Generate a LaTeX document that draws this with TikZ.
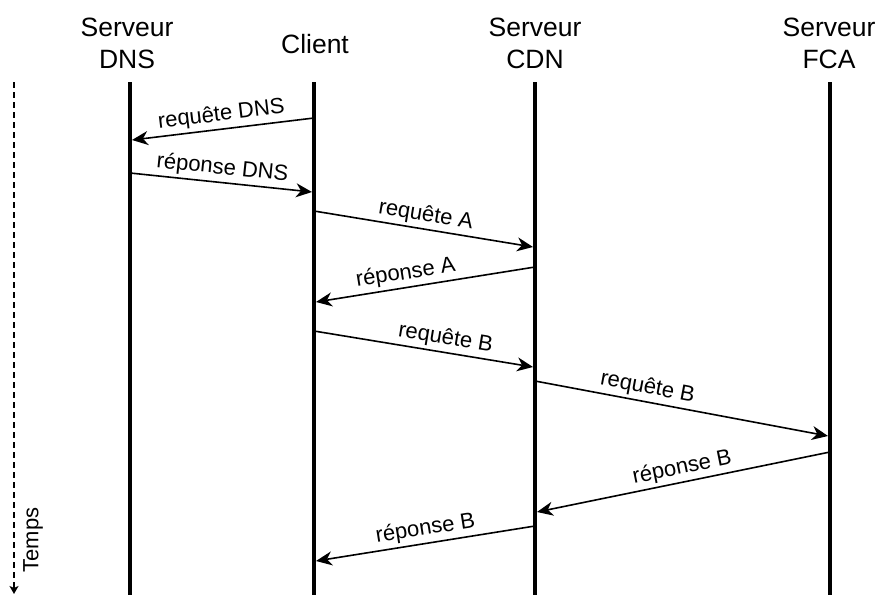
\documentclass[tikz,border=0pt]{standalone}
\usepackage{fontspec}
\setmainfont{Liberation Sans}
\usetikzlibrary{arrows.meta}
\begin{document}
\begin{tikzpicture}[x=1pt,y=-1pt,
  header/.style={font=\fontsize{26.5}{32}\selectfont, align=center, inner sep=0pt},
  lifeline/.style={line width=4pt},
  msg/.style={line width=1.6pt, -{Stealth[length=16pt,width=14pt,inset=5pt]}},
  lbl/.style={font=\fontsize{22}{26}\selectfont, sloped, above, inner sep=3pt},
  timeaxis/.style={line width=1.8pt, dash pattern=on 6pt off 4pt, -{Stealth[length=8pt,width=9pt,inset=2pt]}}]
\useasboundingbox (0,0) rectangle (881,595);
% headers
\node[header] (hdns) at (127,43) {Serveur\\DNS};
\node[header, anchor=base] (hcli) at (315,53) {Client};
\node[header] (hcdn) at (535,43) {Serveur\\CDN};
\node[header] (hfca) at (829,43) {Serveur\\FCA};
% lifelines
\coordinate (dnsT) at (130,82);  \coordinate (dnsB) at (130,595);
\coordinate (cliT) at (314,82);  \coordinate (cliB) at (314,595);
\coordinate (cdnT) at (535,82);  \coordinate (cdnB) at (535,595);
\coordinate (fcaT) at (830,82);  \coordinate (fcaB) at (830,595);
\draw[lifeline] (dnsT) -- (dnsB);
\draw[lifeline] (cliT) -- (cliB);
\draw[lifeline] (cdnT) -- (cdnB);
\draw[lifeline] (fcaT) -- (fcaB);
% time axis
\coordinate (tT) at (14,82); \coordinate (tB) at (14,594);
\draw[timeaxis] (tT) -- (tB);
\node[font=\fontsize{22}{26}\selectfont, rotate=90, inner sep=0pt] (temps) at (33,540) {Temps};
% message end points
\coordinate (m1a) at (314,118); \coordinate (m1b) at (132,140);
\coordinate (m2a) at (130,173); \coordinate (m2b) at (312,192);
\coordinate (m3a) at (314,211); \coordinate (m3b) at (533,247);
\coordinate (m4a) at (535,267); \coordinate (m4b) at (316,302);
\coordinate (m5a) at (314,331); \coordinate (m5b) at (533,367);
\coordinate (m6a) at (535,381); \coordinate (m6b) at (828,436);
\coordinate (m7a) at (830,452); \coordinate (m7b) at (537,512);
\coordinate (m8a) at (535,526); \coordinate (m8b) at (316,561);
% messages
\draw[msg] (m1a) -- node[lbl, pos=0.5] (l1) {requête DNS} (m1b);
\draw[msg] (m2a) -- node[lbl, pos=0.5] (l2) {réponse DNS} (m2b);
\draw[msg] (m3a) -- node[lbl, pos=0.5] (l3) {requête A} (m3b);
\draw[msg] (m4a) -- node[lbl, pos=0.58] (l4) {réponse A} (m4b);
\draw[msg] (m5a) -- node[lbl, pos=0.59] (l5) {requête B} (m5b);
\draw[msg] (m6a) -- node[lbl, pos=0.375] (l6) {requête B} (m6b);
\draw[msg] (m7a) -- node[lbl, pos=0.495] (l7) {réponse B} (m7b);
\draw[msg] (m8a) -- node[lbl, pos=0.49] (l8) {réponse B} (m8b);
\end{tikzpicture}
\end{document}
